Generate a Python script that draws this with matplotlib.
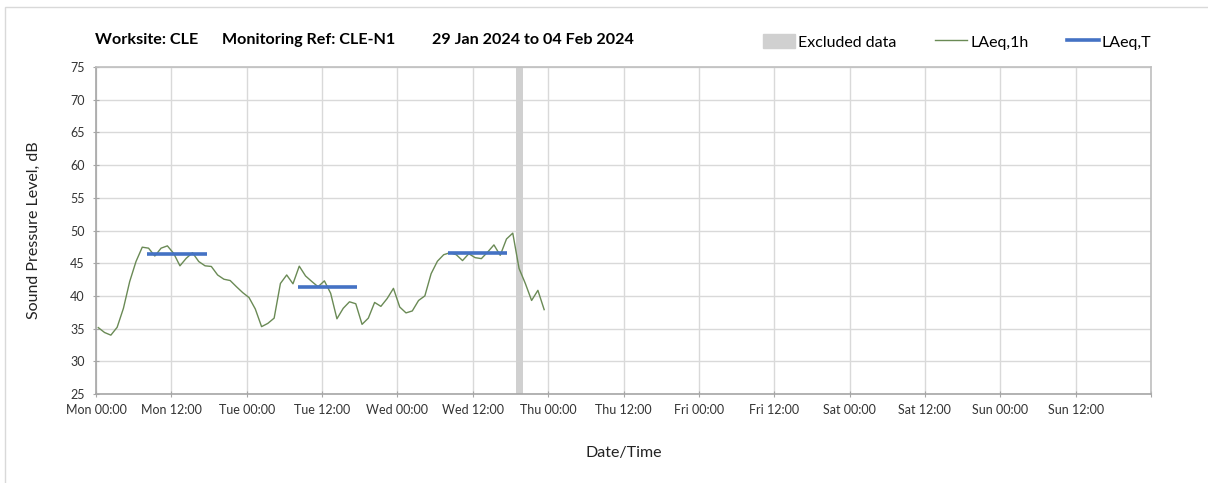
import numpy as np
import pandas as pd
import matplotlib
matplotlib.use("Agg")
import matplotlib.pyplot as plt
from matplotlib.lines import Line2D
from matplotlib.patches import Patch, Rectangle

plt.rcParams['font.family'] = ['Lato', 'DejaVu Sans']

# hourly LAeq,1h values (dB), Mon 29 Jan 2024 onwards
laeq_1h = [35.15, 34.4, 34.0, 35.2, 38.1, 42.2, 45.25, 47.45, 47.3, 46.1,
           47.3, 47.65, 46.5, 44.6, 45.75, 46.6, 45.25, 44.6, 44.5, 43.2,
           42.55, 42.35, 41.4, 40.5, 39.75, 38.0, 35.3, 35.8, 36.6, 41.9,
           43.2, 41.85, 44.55, 43.05, 42.2, 41.4, 42.3, 40.4, 36.5, 38.1,
           39.1, 38.8, 35.65, 36.6, 39.0, 38.4, 39.6, 41.15, 38.3, 37.4,
           37.7, 39.3, 40.0, 43.4, 45.3, 46.3, 46.6, 46.3, 45.4, 46.45,
           45.85, 45.7, 46.7, 47.8, 46.2, 48.7, 49.6, 44.2, 41.9, 39.3,
           40.85, 37.9]
times_1h = pd.date_range('2024-01-29 00:22', periods=len(laeq_1h), freq='h')

# LAeq,T periods (start, end, level)
laeq_t_start = ['2024-01-29 08:12', '2024-01-30 08:12', '2024-01-31 08:06']
laeq_t_end = ['2024-01-29 17:36', '2024-01-30 17:30', '2024-01-31 17:30']
laeq_t_level = [46.4, 41.3, 46.6]

# excluded data window
excl_start = '2024-01-31 18:54'
excl_end = '2024-01-31 19:57'

t0 = pd.Timestamp('2024-01-29 00:00')
tick_labels = ['Mon 00:00', 'Mon 12:00', 'Tue 00:00', 'Tue 12:00',
               'Wed 00:00', 'Wed 12:00', 'Thu 00:00', 'Thu 12:00',
               'Fri 00:00', 'Fri 12:00', 'Sat 00:00', 'Sat 12:00',
               'Sun 00:00', 'Sun 12:00']


def hrs(t):
    return (pd.to_datetime(t) - t0) / pd.Timedelta(hours=1)


fig = plt.figure(figsize=(12.08, 4.83), dpi=100)
fig.patches.append(Rectangle((5 / 1208, -0.01), 1.1, 1 - 7 / 483 + 0.01,
                             transform=fig.transFigure, fill=False,
                             edgecolor='#d9d9d9', linewidth=1))
ax = fig.add_axes([96 / 1208, 1 - 394 / 483, 1055 / 1208, 327 / 483])

green = '#6a8a55'
blue = '#4472c4'
grey = '#d0d0d0'

ax.axvspan(hrs(excl_start), hrs(excl_end), color=grey, lw=0, zorder=1)
ax.plot(hrs(times_1h), laeq_1h, color=green, lw=1.0, zorder=3)
for s, e, v in zip(laeq_t_start, laeq_t_end, laeq_t_level):
    ax.plot([hrs(s), hrs(e)], [v, v], color=blue, lw=2.6,
            solid_capstyle='butt', zorder=4)

ax.set_xlim(0, 168)
ax.set_ylim(25, 75)
ax.set_xticks(np.arange(0, 169, 12))
ax.set_xticklabels(tick_labels + [''], fontsize=9, color='#333333')
ax.set_yticks(np.arange(25, 76, 5))
ax.tick_params(axis='y', labelsize=9, labelcolor='#333333', length=4,
               direction='inout', color='#a6a6a6', pad=6)
ax.tick_params(axis='x', length=5, direction='inout', color='#a6a6a6', pad=5)
ax.grid(True, color='#d9d9d9', lw=1, zorder=0)
ax.set_axisbelow(True)
for sp in ax.spines.values():
    sp.set_color('#bfbfbf')
    sp.set_linewidth(1.2)
ax.spines['left'].set_color('#a6a6a6')
ax.spines['bottom'].set_color('#a6a6a6')

ax.set_ylabel('Sound Pressure Level, dB', fontsize=11.5, color='#222222',
              labelpad=21)
ax.set_xlabel('Date/Time', fontsize=11.5, color='#222222', labelpad=21)

fig.text(95 / 1208, 1 - 40 / 483, 'Worksite: CLE', fontsize=11.6,
         fontweight='bold', va='center')
fig.text(222 / 1208, 1 - 40 / 483, 'Monitoring Ref: CLE-N1', fontsize=11.6,
         fontweight='bold', va='center')
fig.text(432 / 1208, 1 - 40 / 483, '29 Jan 2024 to 04 Feb 2024', fontsize=11.6,
         fontweight='bold', va='center')

handles = [Patch(color=grey, label='Excluded data'),
           Line2D([], [], color=green, lw=1.0, label='LAeq,1h'),
           Line2D([], [], color=blue, lw=2.6, label='LAeq,T')]
fig.legend(handles=handles, loc='center right', ncol=3, frameon=False,
           bbox_to_anchor=(1158 / 1208, 1 - 42 / 483), fontsize=11.5,
           handlelength=2.0, handleheight=0.9, handletextpad=0.2,
           columnspacing=2.4, borderaxespad=0)

fig.savefig('out.png', dpi=100)
